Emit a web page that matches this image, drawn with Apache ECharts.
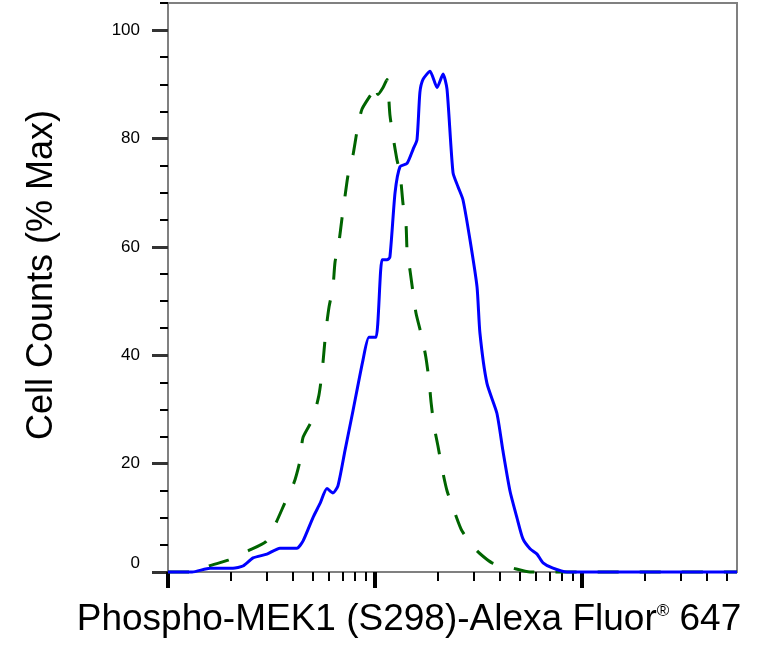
<!DOCTYPE html>
<html>
<head>
<meta charset="utf-8">
<script src="https://cdn.jsdelivr.net/npm/echarts@6/dist/echarts.min.js"></script>
<style>
html, body { margin: 0; padding: 0; background: #fff; }
#main { width: 762px; height: 652px; }
</style>
</head>
<body>
<div id="main"></div>
<script>
// x positions are log10 of the channel intensity
var blueLogX = [2.000, 2.116, 2.203, 2.314, 2.362, 2.411, 2.478, 2.541, 2.623, 2.652, 2.700, 2.734, 2.768, 2.797, 2.821, 2.855, 2.894, 2.942, 2.971, 3.005, 3.034, 3.058, 3.072, 3.097, 3.121, 3.155, 3.184, 3.203, 3.217, 3.232, 3.266, 3.300, 3.329, 3.348, 3.377, 3.401, 3.425, 3.459, 3.493, 3.507, 3.541, 3.589, 3.618, 3.652, 3.686, 3.715, 3.749, 3.783, 3.812, 3.860, 3.928, 4.749];
var blueCount = [0, 0, 0.7, 0.7, 1.1, 2.6, 3.3, 4.4, 4.4, 5.7, 10.0, 12.6, 15.4, 14.6, 15.9, 22.4, 29.8, 39.1, 43.3, 43.3, 57.6, 57.6, 58.1, 70.0, 74.8, 75.4, 78.0, 79.8, 88.5, 90.9, 92.4, 89.4, 91.9, 89.1, 73.7, 71.1, 68.7, 61.3, 52.6, 44.1, 34.8, 29.3, 22.4, 15.0, 10.0, 6.1, 4.3, 3.3, 1.7, 0.7, 0, 0];

var greenLogX = [2.000, 2.116, 2.155, 2.198, 2.290, 2.386, 2.473, 2.522, 2.565, 2.609, 2.638, 2.652, 2.700, 2.729, 2.744, 2.754, 2.763, 2.778, 2.797, 2.807, 2.826, 2.841, 2.855, 2.870, 2.894, 2.913, 2.937, 2.986, 3.000, 3.014, 3.039, 3.058, 3.072, 3.087, 3.106, 3.121, 3.135, 3.150, 3.155, 3.169, 3.184, 3.198, 3.227, 3.246, 3.261, 3.271, 3.285, 3.304, 3.324, 3.348, 3.386, 3.420, 3.493, 3.565, 3.667, 3.749, 4.749];
var greenCount = [0, 0, 0.4, 1.1, 2.2, 3.9, 5.6, 9.1, 12.8, 16.5, 20.6, 24.8, 28.3, 32.6, 36.7, 40.9, 44.6, 48.9, 52.6, 57.2, 60.9, 65.4, 69.3, 73.3, 77.0, 81.3, 85.4, 88.5, 90.0, 88.1, 89.4, 90.9, 84.4, 80.4, 76.1, 73.7, 68.1, 64.1, 59.4, 55.7, 51.5, 47.8, 43.3, 39.6, 35.4, 31.3, 27.0, 23.3, 19.1, 15.0, 10.9, 7.6, 3.9, 1.7, 0.7, 0, 0];

var xMajorTicks = [100, 1000, 10000];
var xMinorTicks = [200, 300, 400, 500, 600, 700, 800, 900, 2000, 3000, 4000, 5000, 6000, 7000, 8000, 9000, 20000, 30000, 40000, 50000];
var yMajorTicks = [0, 20, 40, 60, 80, 100];
var yMinorTicks = [5, 10, 15, 25, 30, 35, 45, 50, 55, 65, 70, 75, 85, 90, 95, 105];

var xMin = 2, xMax = 4.749;

function pairs(xs, ys) {
    return xs.map(function (x, i) { return [x, ys[i]]; });
}

var myChart = echarts.init(document.getElementById('main'));

var axisGray = '#808080';
var fontName = 'Liberation Sans, Arial, sans-serif';

myChart.setOption({
    animation: false,
    grid: {
        left: 168, right: 25, top: 3, bottom: 80,
        show: true,
        borderColor: axisGray,
        borderWidth: 2
    },
    xAxis: [
        {
            type: 'value', min: xMin, max: xMax, position: 'bottom',
            axisLine: { show: true, lineStyle: { color: axisGray, width: 2 } },
            axisTick: { show: true, length: 9, customValues: xMinorTicks.map(Math.log10), lineStyle: { color: '#000', width: 2 } },
            axisLabel: { show: false },
            splitLine: { show: false }
        },
        {
            type: 'value', min: xMin, max: xMax, position: 'bottom',
            axisLine: { show: false },
            axisTick: { show: true, length: 16, customValues: xMajorTicks.map(Math.log10), lineStyle: { color: '#000', width: 4 } },
            axisLabel: { show: false },
            splitLine: { show: false }
        }
    ],
    yAxis: [
        {
            type: 'value', min: 0, max: 105, position: 'left',
            axisLine: { show: true, lineStyle: { color: axisGray, width: 2 } },
            axisTick: { show: true, length: 16, customValues: yMajorTicks, lineStyle: { color: '#333', width: 3 } },
            axisLabel: {
                customValues: yMajorTicks,
                margin: 28,
                fontSize: 17,
                fontFamily: fontName,
                color: '#000',
                verticalAlignMinLabel: 'bottom'
            },
            splitLine: { show: false }
        },
        {
            type: 'value', min: 0, max: 105, position: 'left',
            axisLine: { show: false },
            axisTick: { show: true, length: 8, customValues: yMinorTicks, lineStyle: { color: '#000', width: 2 } },
            axisLabel: { show: false },
            splitLine: { show: false }
        }
    ],
    series: [
        {
            name: 'control',
            type: 'line',
            data: pairs(greenLogX, greenCount),
            showSymbol: false,
            symbol: 'none',
            smooth: 0.2,
            clip: false,
            lineStyle: { color: '#006400', width: 3, type: [21, 21] }
        },
        {
            name: 'sample',
            type: 'line',
            data: pairs(blueLogX, blueCount),
            showSymbol: false,
            symbol: 'none',
            smooth: 0.2,
            clip: false,
            lineStyle: { color: '#0000ff', width: 3 }
        }
    ],
    graphic: [
        {
            type: 'text',
            x: 42, y: 275,
            rotation: Math.PI / 2,
            style: {
                text: 'Cell Counts (% Max)',
                font: '36px "Liberation Sans", Arial, sans-serif',
                fill: '#000',
                textAlign: 'center',
                textVerticalAlign: 'middle'
            }
        },
        {
            type: 'text',
            x: 409, y: 620,
            style: {
                text: '{a|Phospho-MEK1 (S298)-Alexa Fluor}{r|®}{a| 647}',
                textAlign: 'center',
                textVerticalAlign: 'middle',
                fill: '#000',
                rich: {
                    a: { fontSize: 37, fontFamily: fontName, fill: '#000' },
                    r: { fontSize: 17, fontFamily: fontName, fill: '#000', verticalAlign: 'top', padding: [1, 0, 0, 0] }
                }
            }
        }
    ]
});
</script>
</body>
</html>
